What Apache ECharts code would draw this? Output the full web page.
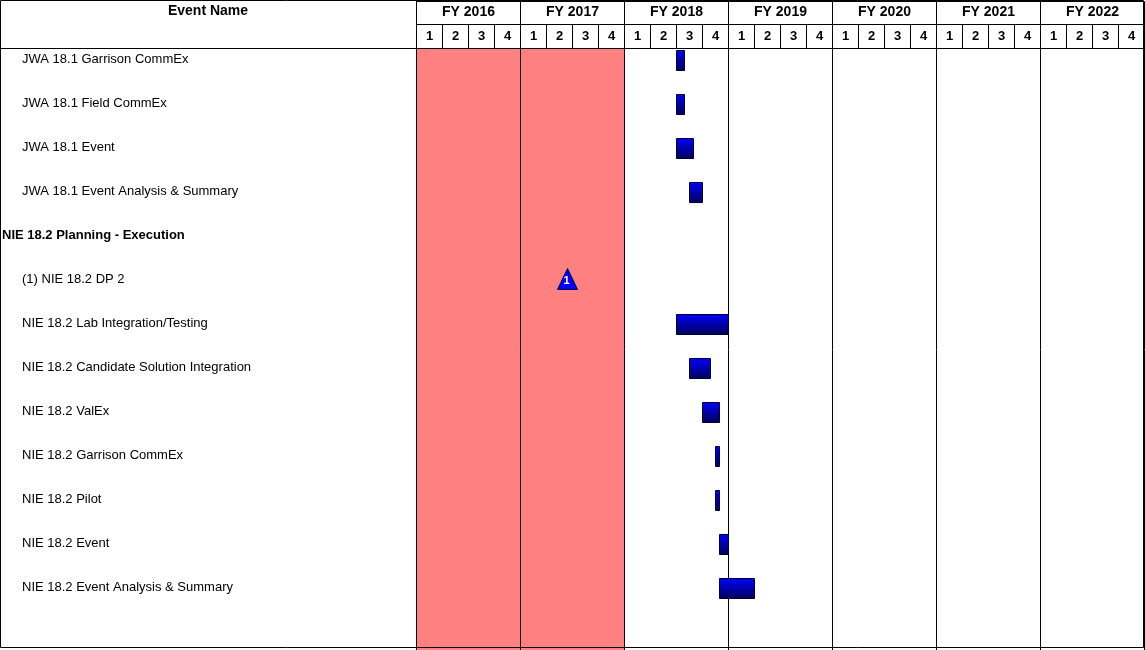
<!DOCTYPE html>
<html><head><meta charset="utf-8">
<script src="https://cdn.jsdelivr.net/npm/echarts@6/dist/echarts.min.js"></script>
<style>html,body{margin:0;padding:0;background:#fff}#c{width:1145px;height:650px}</style>
</head><body><div id="c"></div>
<script>
// months counted from start of FY 2016 (Oct 2015)
const fiscalYears = ['FY 2016','FY 2017','FY 2018','FY 2019','FY 2020','FY 2021','FY 2022'];
const quarterLabels = ['1','2','3','4'];
const eventNames = [
  'JWA 18.1 Garrison CommEx',
  'JWA 18.1 Field CommEx',
  'JWA 18.1 Event',
  'JWA 18.1 Event Analysis & Summary',
  'NIE 18.2 Planning - Execution',
  '(1) NIE 18.2 DP 2',
  'NIE 18.2 Lab Integration/Testing',
  'NIE 18.2 Candidate Solution Integration',
  'NIE 18.2 ValEx',
  'NIE 18.2 Garrison CommEx',
  'NIE 18.2 Pilot',
  'NIE 18.2 Event',
  'NIE 18.2 Event Analysis & Summary'
];
const groupRows = [4];
// [row, startMonth, endMonth]
const taskBars = [
  [0, 30, 31],
  [1, 30, 31],
  [2, 30, 32],
  [3, 31.5, 33],
  [6, 30, 36],
  [7, 31.5, 34],
  [8, 33, 35],
  [9, 34.5, 35],
  [10, 34.5, 35],
  [11, 35, 36],
  [12, 35, 39]
];
// [row, month, label]
const milestones = [[5, 17.4, '1']];
// shaded period [start, end]
const shadedPeriods = [[0, 24]];

const TOTAL = fiscalYears.length * 12;
const FONT = '"Liberation Sans", Arial, sans-serif';
const chart = echarts.init(document.getElementById('c'));
const crisp = v => Math.round(v) + 0.5;

const headerCells = [];
fiscalYears.forEach((fy, i) => headerCells.push([i * 12, (i + 1) * 12, 0, fy]));
fiscalYears.forEach((fy, i) => quarterLabels.forEach((q, j) => headerCells.push([i * 12 + j * 3, i * 12 + (j + 1) * 3, 1, q])));

const yearLines = [];
for (let i = 0; i <= fiscalYears.length; i++) yearLines.push([i * 12]);

const rowMin = -12 / 44;
const rowMax = rowMin + 599 / 44;

chart.setOption({
  animation: false,
  grid: [
    {id: 'header', left: 416, top: 1, right: 1, height: 47},
    {id: 'body', left: 416, top: 48, right: 1, bottom: 3},
    {id: 'names', left: 1, top: 48, width: 415, bottom: 3}
  ],
  xAxis: [
    {gridIndex: 0, type: 'value', min: 0, max: TOTAL, show: false},
    {gridIndex: 1, type: 'value', min: 0, max: TOTAL, show: false},
    {gridIndex: 2, type: 'value', min: 0, max: 1, show: false}
  ],
  yAxis: [
    {gridIndex: 0, type: 'value', min: 0, max: 2, inverse: true, show: false},
    {gridIndex: 1, type: 'value', min: rowMin, max: rowMax, inverse: true, show: false},
    {gridIndex: 2, type: 'value', min: rowMin, max: rowMax, inverse: true, show: false}
  ],
  graphic: [
    {type: 'rect', shape: {x: 0.5, y: 0.5, width: 1143, height: 647}, style: {fill: 'none', stroke: '#000', lineWidth: 1}, z: 100, silent: true},
    {type: 'line', shape: {x1: 0, y1: 48.5, x2: 1144, y2: 48.5}, style: {stroke: '#000', lineWidth: 1}, z: 100},
    {type: 'line', shape: {x1: 416.5, y1: 0, x2: 416.5, y2: 650}, style: {stroke: '#000', lineWidth: 1}, z: 100},
    {type: 'text', x: 208, y: 11, style: {text: 'Event Name', align: 'center', verticalAlign: 'middle', font: 'bold 14px ' + FONT, fill: '#000'}, z: 100}
  ],
  series: [
    { // shaded period
      type: 'custom', xAxisIndex: 1, yAxisIndex: 1, z: 1, clip: false, silent: true,
      data: shadedPeriods,
      renderItem(params, api) {
        const cs = params.coordSys;
        const x1 = api.coord([api.value(0), 0])[0];
        const x2 = api.coord([api.value(1), 0])[0];
        return {type: 'rect', shape: {x: x1, y: cs.y, width: x2 - x1, height: cs.height + 4}, style: {fill: '#FF8080'}};
      }
    },
    { // year lines in body
      type: 'custom', xAxisIndex: 1, yAxisIndex: 1, z: 3, clip: false, silent: true,
      data: yearLines,
      renderItem(params, api) {
        const cs = params.coordSys;
        const x = crisp(api.coord([api.value(0), 0])[0] - 0.5);
        return {type: 'line', shape: {x1: x, y1: cs.y, x2: x, y2: cs.y + cs.height + 4}, style: {stroke: '#000', lineWidth: 1}};
      }
    },
    { // header cells
      type: 'custom', xAxisIndex: 0, yAxisIndex: 0, z: 3, clip: false, silent: true,
      data: headerCells,
      renderItem(params, api) {
        const r = api.value(2);
        const p1 = api.coord([api.value(0), r]);
        const p2 = api.coord([api.value(1), r + 1]);
        const x1 = crisp(p1[0] - 0.5), x2 = crisp(p2[0] - 0.5);
        const y1 = crisp(p1[1] - 0.5), y2 = crisp(p2[1] - 0.5);
        const txt = headerCells[params.dataIndex][3];
        return {type: 'group', children: [
          {type: 'rect', shape: {x: x1, y: y1, width: x2 - x1, height: y2 - y1}, style: {fill: 'none', stroke: '#000', lineWidth: 1}},
          {type: 'text', style: {text: txt, x: (x1 + x2) / 2, y: (y1 + y2) / 2 - 0.5, align: 'center', verticalAlign: 'middle', font: 'bold ' + (r === 0 ? 14 : 13) + 'px ' + FONT, fill: '#000'}}
        ]};
      }
    },
    { // task bars
      type: 'custom', xAxisIndex: 1, yAxisIndex: 1, z: 4, clip: false,
      data: taskBars,
      renderItem(params, api) {
        const row = api.value(0);
        const p1 = api.coord([api.value(1), row]);
        const p2 = api.coord([api.value(2), row]);
        const x1 = crisp(p1[0] - 0.5), x2 = crisp(p2[0] - 0.5);
        const yc = Math.round(p1[1]);
        return {type: 'rect', shape: {x: x1, y: yc - 9.5, width: Math.max(x2 - x1, 4), height: 20},
          style: {fill: new echarts.graphic.LinearGradient(0, 0, 0, 1, [{offset: 0, color: '#0000FF'}, {offset: 1, color: '#000055'}]), stroke: '#000033', lineWidth: 1}};
      }
    },
    { // milestones
      type: 'custom', xAxisIndex: 1, yAxisIndex: 1, z: 5, clip: false,
      data: milestones,
      renderItem(params, api) {
        const p = api.coord([api.value(1), api.value(0)]);
        const cx = Math.round(p[0]) + 0.5, cy = Math.round(p[1]);
        return {type: 'group', children: [
          {type: 'polygon', shape: {points: [[cx, cy - 11.5], [cx + 10, cy + 9.5], [cx - 10, cy + 9.5]]}, style: {fill: '#0000FF', stroke: '#000040', lineWidth: 1}},
          {type: 'text', style: {text: milestones[params.dataIndex][2], x: cx - 1, y: cy + 1, align: 'center', verticalAlign: 'middle', font: 'bold 11px ' + FONT, fill: '#fff'}}
        ]};
      }
    },
    { // event names
      type: 'custom', xAxisIndex: 2, yAxisIndex: 2, z: 5, clip: false, silent: true,
      data: eventNames.map((n, i) => [0, i]),
      renderItem(params, api) {
        const i = params.dataIndex;
        const p = api.coord([0, api.value(1)]);
        const bold = groupRows.includes(i);
        return {type: 'text', style: {text: eventNames[i], x: p[0] + (bold ? 1 : 21), y: Math.round(p[1]) - 1, align: 'left', verticalAlign: 'middle', font: (bold ? 'bold ' : '') + '13px ' + FONT, fill: '#000'}};
      }
    }
  ]
});
</script></body></html>
